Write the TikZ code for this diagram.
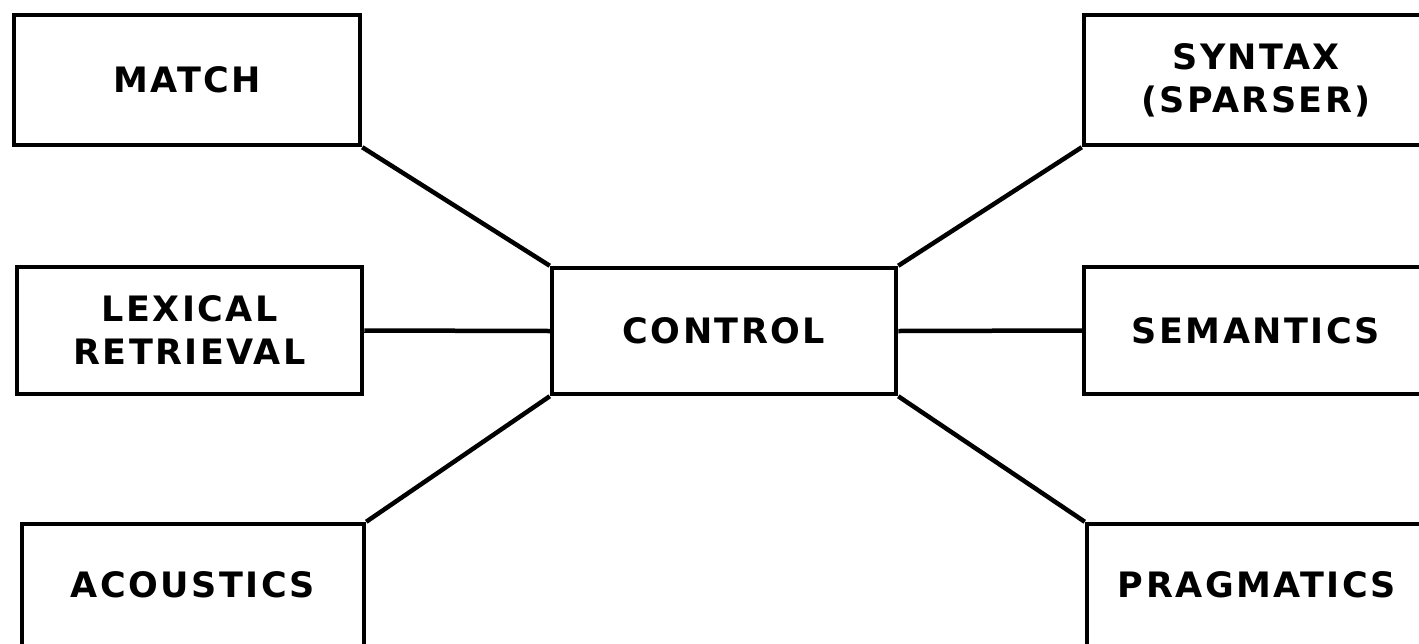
\documentclass[tikz,border=0pt]{standalone}
\usepackage{fontspec}
\newfontfamily\lbl{DejaVu Sans}[LetterSpace=7]
\begin{document}
\begin{tikzpicture}[x=1pt,y=-1pt,
  module/.style={draw=black,line width=4.5pt,rectangle,inner sep=0pt,
    align=center,font=\lbl\bfseries\fontsize{35}{43}\selectfont},
  link/.style={draw=black,line width=4.5pt,line join=round}]
  \useasboundingbox (0,0) rectangle (1419,643);
  \clip (0,0) rectangle (1419,643);
  \fill[white] (0,0) rectangle (1419,643);

  % central controller
  \node[module,minimum width=344pt,minimum height=126pt] (control) at (724,331) {CONTROL};

  % knowledge sources on the left
  \node[module,minimum width=346pt,minimum height=130pt] (match) at (187,80) {MATCH};
  \node[module,minimum width=345pt,minimum height=127pt] (lex) at (189.5,330.5) {LEXICAL\\RETRIEVAL};
  \node[module,minimum width=342pt,minimum height=122pt] (acou) at (193,585) {ACOUSTICS};

  % knowledge sources on the right
  \node[module,minimum width=344pt,minimum height=130pt] (syn) at (1256,80) {SYNTAX\\(SPARSER)};
  \node[module,minimum width=344pt,minimum height=127pt] (sem) at (1256,330.5) {SEMANTICS};
  \node[module,minimum width=340pt,minimum height=122pt] (prag) at (1257,585) {PRAGMATICS};

  % connections to the controller
  \draw[link] (match.south east) -- (control.north west);
  \draw[link] (lex.east) -- (control.west);
  \draw[link] (acou.north east) -- (control.south west);
  \draw[link] (syn.south west) -- (control.north east);
  \draw[link] (control.east) -- (sem.west);
  \draw[link] (prag.north west) -- (control.south east);
\end{tikzpicture}
\end{document}
